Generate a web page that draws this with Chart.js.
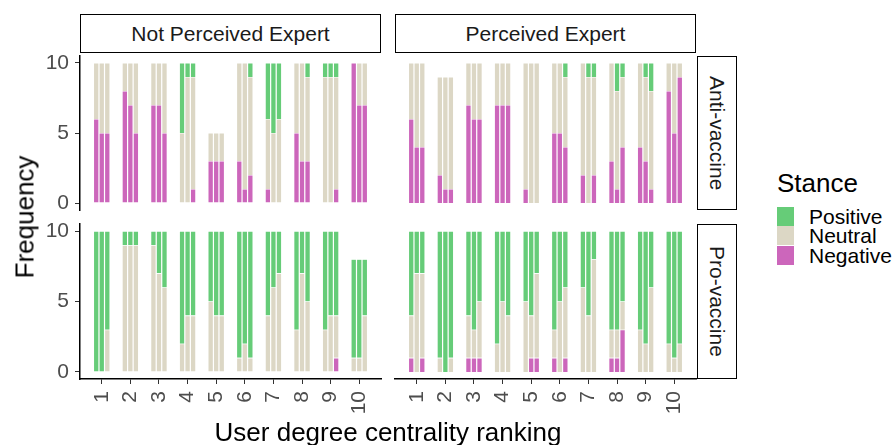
<!DOCTYPE html>
<html>
<head>
<meta charset="utf-8">
<script src="https://cdn.jsdelivr.net/npm/chart.js@4"></script>
<style>
  body { margin: 0; width: 896px; height: 445px; background: #fff; position: relative; overflow: hidden;
         font-family: 'Liberation Sans', Arial, sans-serif; }
  canvas { position: absolute; }
  .strip { position: absolute; box-sizing: border-box; border: 1.5px solid #000; background: #fff;
           color: #1a1a1a; font-size: 21px; display: flex; align-items: center; justify-content: center; }
  .strip.side span { writing-mode: vertical-rl; }
  .title { position: absolute; color: #000; font-size: 26px; white-space: nowrap; }
  .key { position: absolute; left: 777px; width: 17px; height: 19px; }
  .lab { position: absolute; left: 809px; font-size: 21px; line-height: 20px; color: #000; }
</style>
</head>
<body>

<div class="strip" style="left:80px;top:14px;width:301px;height:39px;">Not Perceived Expert</div>
<div class="strip" style="left:395px;top:14px;width:301px;height:39px;">Perceived Expert</div>
<div class="strip side" style="left:697px;top:56px;width:40px;height:154px;"><span>Anti-vaccine</span></div>
<div class="strip side" style="left:697px;top:224px;width:40px;height:155px;"><span>Pro-vaccine</span></div>

<canvas id="tl" width="390" height="170" style="left:0;top:50px"></canvas>
<canvas id="tr" width="310" height="170" style="left:390px;top:50px"></canvas>
<canvas id="bl" width="390" height="210" style="left:0;top:218px"></canvas>
<canvas id="br" width="310" height="210" style="left:390px;top:218px"></canvas>

<div class="title" style="left:25px;top:217px;transform:translate(-50%,-50%) rotate(-90deg);">Frequency</div>
<div class="title" style="left:388px;top:432px;transform:translate(-50%,-50%);">User degree centrality ranking</div>

<div class="title" style="left:777px;top:168px;">Stance</div>
<div class="key" style="top:207px;background:#66cc78"></div>
<div class="key" style="top:226px;background:#dcd7c5"></div>
<div class="key" style="top:246px;background:#cc66bb"></div>
<div class="lab" style="top:207px">Positive</div>
<div class="lab" style="top:226px">Neutral</div>
<div class="lab" style="top:246px">Negative</div>

<script>
const categories = [1, 2, 3, 4, 5, 6, 7, 8, 9, 10];
const yTicks = [0, 5, 10];
const stances = ['Negative', 'Neutral', 'Positive'];
const stanceColors = ['#cc66bb', '#dcd7c5', '#66cc78'];
const subBars = ['a', 'b', 'c'];

// each entry = the three side by side bars of one ranking
const antiNotExpertNeg = [[6,5,5],[8,7,5],[7,7,5],[0,0,1],[3,3,3],[3,1,2],[1,0,0],[5,3,3],[0,0,1],[10,7,7]];
const antiNotExpertNeu = [[4,5,5],[2,3,5],[3,3,5],[5,9,8],[2,2,2],[7,9,7],[5,5,6],[5,7,6],[9,9,8],[0,3,3]];
const antiNotExpertPos = [[0,0,0],[0,0,0],[0,0,0],[5,1,1],[0,0,0],[0,0,1],[4,5,4],[0,0,1],[1,1,1],[0,0,0]];

const antiExpertNeg = [[6,4,4],[2,1,1],[7,6,6],[7,7,7],[1,0,0],[5,5,4],[2,0,2],[3,1,4],[4,3,1],[8,5,9]];
const antiExpertNeu = [[4,6,6],[7,8,8],[3,4,4],[3,3,3],[9,10,10],[5,5,5],[8,9,7],[7,7,5],[6,6,7],[2,5,1]];
const antiExpertPos = [[0,0,0],[0,0,0],[0,0,0],[0,0,0],[0,0,0],[0,0,1],[0,1,1],[0,2,1],[0,1,2],[0,0,0]];

const proNotExpertNeg = [[0,0,0],[0,0,0],[0,0,0],[0,0,0],[0,0,0],[0,0,0],[0,0,0],[0,0,0],[0,0,1],[0,0,0]];
const proNotExpertNeu = [[0,0,3],[9,9,9],[9,7,6],[2,4,4],[5,4,4],[1,2,1],[4,6,7],[3,7,5],[3,4,3],[1,1,4]];
const proNotExpertPos = [[10,10,7],[1,1,1],[1,3,4],[8,6,6],[5,6,6],[9,8,9],[6,4,3],[7,3,5],[7,6,6],[7,7,4]];

const proExpertNeg = [[1,0,1],[0,0,0],[1,1,1],[0,0,0],[0,1,1],[1,0,1],[0,0,0],[1,1,3],[0,0,0],[0,0,0]];
const proExpertNeu = [[3,7,6],[1,0,1],[3,2,4],[2,5,4],[5,3,6],[2,5,5],[6,4,8],[2,2,2],[3,2,6],[2,1,2]];
const proExpertPos = [[6,3,3],[9,10,9],[6,7,5],[8,5,6],[5,6,3],[7,5,4],[4,6,2],[7,7,5],[7,8,4],[8,9,8]];

const tickFont = { family: 'Liberation Sans', size: 21 };

function makeChart(id, series, showX, showY, padding) {
  const datasets = [];
  subBars.forEach((sb, s) => {
    series.forEach((vals, k) => {
      datasets.push({
        label: stances[k],
        stack: sb,
        data: categories.map((c, i) => ({ x: c, y: vals[i][s] })),
        backgroundColor: stanceColors[k],
        borderColor: 'rgba(255,255,255,0.45)',
        borderWidth: 0.6,
        categoryPercentage: 0.58,
        barPercentage: 1
      });
    });
  });

  new Chart(document.getElementById(id), {
    type: 'bar',
    data: { datasets },
    options: {
      responsive: false,
      animation: false,
      devicePixelRatio: 1,
      layout: { padding },
      plugins: { legend: { display: false }, tooltip: { enabled: false } },
      scales: {
        x: {
          type: 'linear',
          min: 0.24,
          max: 10.76,
          offset: false,
          stacked: true,
          display: showX,
          afterBuildTicks: sc => { sc.ticks = categories.map(v => ({ value: v })); },
          afterFit: sc => {
            sc.height = showX ? 49 : 0;
            sc.paddingLeft = 0;
            sc.paddingRight = 0;
          },
          ticks: { minRotation: 90, maxRotation: 90, autoSkip: false, font: tickFont, color: '#4d4d4d', padding: 7 },
          grid: { offset: false, drawOnChartArea: false, drawTicks: true, tickLength: 5, color: '#333' },
          border: { display: true, color: '#000', width: 1.5 }
        },
        y: {
          min: -0.5,
          max: 10.5,
          stacked: true,
          display: showY,
          afterBuildTicks: sc => { sc.ticks = yTicks.map(v => ({ value: v })); },
          afterFit: sc => {
            sc.width = showY ? 80 : 0;
            sc.paddingTop = 0;
            sc.paddingBottom = 0;
          },
          ticks: { font: tickFont, color: '#4d4d4d', padding: 6 },
          grid: { drawOnChartArea: false, drawTicks: true, tickLength: 5, color: '#333' },
          border: { display: true, color: '#000', width: 1.5 }
        }
      }
    }
  });
}

makeChart('tl', [antiNotExpertNeg, antiNotExpertNeu, antiNotExpertPos], false, true, { left: 0, right: 9, top: 6, bottom: 10 });
makeChart('tr', [antiExpertNeg, antiExpertNeu, antiExpertPos], false, false, { left: 5, right: 4, top: 6, bottom: 10 });
makeChart('bl', [proNotExpertNeg, proNotExpertNeu, proNotExpertPos], true, true, { left: 0, right: 9, top: 6, bottom: 0 });
makeChart('br', [proExpertNeg, proExpertNeu, proExpertPos], true, false, { left: 5, right: 4, top: 6, bottom: 0 });
</script>
</body>
</html>
